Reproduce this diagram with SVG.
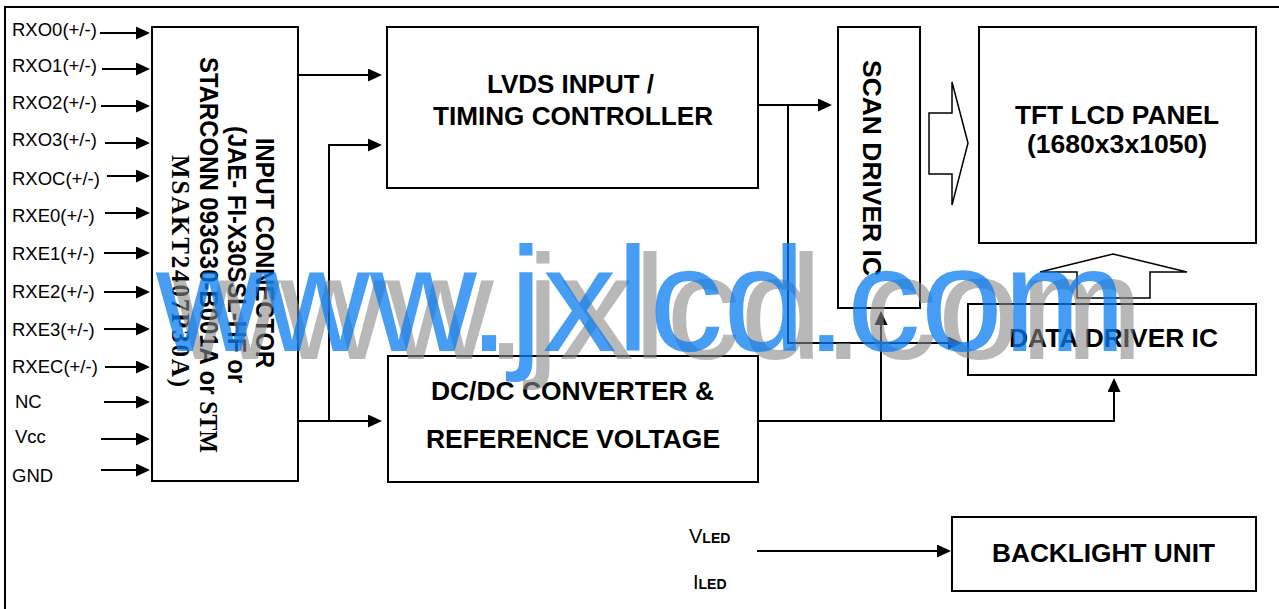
<svg xmlns="http://www.w3.org/2000/svg" width="1279" height="609" viewBox="0 0 1279 609">
<defs>
<marker id="ah" viewBox="0 0 14 13" refX="10" refY="6.5" markerWidth="14" markerHeight="13" markerUnits="userSpaceOnUse" orient="auto"><path d="M0,0 L14,6.5 L0,13 z" fill="#000"/></marker>
</defs>
<style>
.box{fill:#fff;stroke:#000;stroke-width:2}
.ln{fill:none;stroke:#000;stroke-width:2}
.arr{fill:none;stroke:#000;stroke-width:2;marker-end:url(#ah)}
.lbl{font-family:"Liberation Sans",Arial,sans-serif;font-size:18.5px;fill:#000}
.bt{font-family:"Liberation Sans",Arial,sans-serif;font-weight:bold;font-size:25px;fill:#000}
.sf{font-family:"Liberation Serif","Times New Roman",serif;font-weight:bold}
.hollow{fill:#fff;stroke:#000;stroke-width:1.5;stroke-linejoin:miter}
.wm{font-family:"Liberation Sans",Arial,sans-serif;font-size:148px}
</style>
<rect x="0" y="0" width="1279" height="609" fill="#fff"/>
<path class="ln" d="M5,609 V7 H1279"/>

<g id="inputs">
<text class="lbl" x="12" y="36">RXO0(+/-)</text>
<text class="lbl" x="12" y="72">RXO1(+/-)</text>
<text class="lbl" x="12" y="109">RXO2(+/-)</text>
<text class="lbl" x="12" y="146">RXO3(+/-)</text>
<text class="lbl" x="12" y="185">RXOC(+/-)</text>
<text class="lbl" x="12" y="222">RXE0(+/-)</text>
<text class="lbl" x="12" y="260">RXE1(+/-)</text>
<text class="lbl" x="12" y="298">RXE2(+/-)</text>
<text class="lbl" x="12" y="336">RXE3(+/-)</text>
<text class="lbl" x="12" y="373">RXEC(+/-)</text>
<text class="lbl" x="15" y="408">NC</text>
<text class="lbl" x="15" y="443">Vcc</text>
<text class="lbl" x="12" y="482">GND</text>
</g>

<g id="connectors">
<path class="arr" d="M100,33 H146"/>
<path class="arr" d="M102,69 H146"/>
<path class="arr" d="M101,106 H146"/>
<path class="arr" d="M105,143 H146"/>
<path class="arr" d="M107,176 H146"/>
<path class="arr" d="M105,213 H146"/>
<path class="arr" d="M104,253 H146"/>
<path class="arr" d="M104,292 H146"/>
<path class="arr" d="M104,329 H146"/>
<path class="arr" d="M105,367 H146"/>
<path class="arr" d="M104,402 H146"/>
<path class="arr" d="M101,439 H146"/>
<path class="arr" d="M101,470 H146"/>
<path class="arr" d="M298,75 H378"/>
<path class="arr" d="M298,421 H378"/>
<path class="arr" d="M329,421 V145 H378"/>
<path class="arr" d="M758,105 H828"/>
<path class="arr" d="M788,105 V343 H958"/>
<path class="arr" d="M758,421 H1114 V382"/>
<path class="arr" d="M881,421 V315"/>
<path class="arr" d="M757,551 H947"/>
<polygon class="hollow" points="929,113 952,113 952,82 968,143 952,205 952,174 929,174"/>
<polygon class="hollow" points="1040,272 1113,254 1187,272 1150,272 1150,298 1077,298 1077,272"/>
</g>

<g id="input-connector">
<rect class="box" x="152" y="27" width="146" height="454"/>
<text class="bt" font-size="24" transform="translate(256,138) rotate(90)" textLength="230" lengthAdjust="spacingAndGlyphs">INPUT CONNECTOR</text>
<text class="bt" font-size="24" transform="translate(228,126) rotate(90)" textLength="257" lengthAdjust="spacingAndGlyphs">(JAE- FI-X30SSL-HF or</text>
<text class="bt" font-size="24" transform="translate(200,57) rotate(90)" textLength="396" lengthAdjust="spacingAndGlyphs">STARCONN 093G30-B001A or <tspan class="sf">STM</tspan></text>
<text class="bt sf" font-size="23" transform="translate(172,155) rotate(90)" textLength="232" lengthAdjust="spacing">MSAKT2407P30A)</text>
</g>

<g id="lvds">
<rect class="box" x="387" y="27" width="371" height="161"/>
<text class="bt" x="487" y="93" textLength="167" lengthAdjust="spacingAndGlyphs">LVDS INPUT /</text>
<text class="bt" x="433" y="125" textLength="280" lengthAdjust="spacingAndGlyphs">TIMING CONTROLLER</text>
</g>

<g id="dcdc">
<rect class="box" x="388" y="356" width="370" height="126"/>
<text class="bt" x="431" y="400" textLength="283" lengthAdjust="spacingAndGlyphs">DC/DC CONVERTER &amp;</text>
<text class="bt" x="426" y="448" textLength="294" lengthAdjust="spacingAndGlyphs">REFERENCE VOLTAGE</text>
</g>

<g id="scan-driver">
<rect class="box" x="838" y="27" width="82" height="281"/>
<text class="bt" font-size="26" transform="translate(863,60) rotate(90)" textLength="216" lengthAdjust="spacingAndGlyphs">SCAN DRIVER IC</text>
</g>

<g id="tft-panel">
<rect class="box" x="979" y="27" width="277" height="216"/>
<text class="bt" x="1015" y="124" textLength="204" lengthAdjust="spacingAndGlyphs">TFT LCD PANEL</text>
<text class="bt" x="1027" y="152.5" textLength="180" lengthAdjust="spacingAndGlyphs">(1680x3x1050)</text>
</g>

<g id="data-driver">
<rect class="box" x="968" y="304" width="288" height="71"/>
<text class="bt" x="1009" y="347" textLength="209" lengthAdjust="spacingAndGlyphs">DATA DRIVER IC</text>
</g>

<g id="backlight">
<rect class="box" x="952" y="517" width="304" height="74"/>
<text class="bt" x="992" y="562" textLength="223" lengthAdjust="spacingAndGlyphs">BACKLIGHT UNIT</text>
</g>

<g id="led-labels">
<text class="lbl" x="689" y="543"><tspan font-size="20">V</tspan><tspan font-size="14" font-weight="bold">LED</tspan></text>
<text class="lbl" x="693" y="589"><tspan font-size="20">I</tspan><tspan font-size="14" font-weight="bold">LED</tspan></text>
</g>

<g id="watermark">
<text class="wm" x="173" y="359" fill="#888" fill-opacity="0.6">www.jxlcd.com</text>
<text class="wm" x="156" y="351" fill="#0a7cf0" fill-opacity="0.75">www.jxlcd.com</text>
</g>
</svg>
